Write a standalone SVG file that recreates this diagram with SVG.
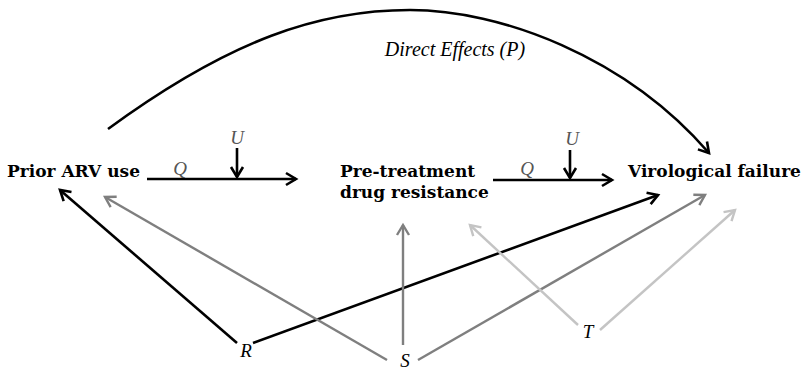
<svg xmlns="http://www.w3.org/2000/svg" width="808" height="370" viewBox="0 0 808 370">
<style>
.k{stroke:#000;stroke-width:2.6;fill:none}
.g{stroke:#7f7f7f;stroke-width:2.4;fill:none}
.l{stroke:#c4c4c4;stroke-width:2.4;fill:none}
</style>
<defs>
<marker id="ak" viewBox="-12 -8 14 16" refX="0" refY="0" markerWidth="14" markerHeight="16" markerUnits="userSpaceOnUse" orient="auto" overflow="visible">
<path d="M-10,-6 L0,0 L-10,6" fill="none" stroke="#000" stroke-width="2.6"/>
</marker>
<marker id="ag" viewBox="-12 -8 14 16" refX="0" refY="0" markerWidth="14" markerHeight="16" markerUnits="userSpaceOnUse" orient="auto" overflow="visible">
<path d="M-10,-6 L0,0 L-10,6" fill="none" stroke="#7f7f7f" stroke-width="2.4"/>
</marker>
<marker id="al" viewBox="-12 -8 14 16" refX="0" refY="0" markerWidth="14" markerHeight="16" markerUnits="userSpaceOnUse" orient="auto" overflow="visible">
<path d="M-10,-6 L0,0 L-10,6" fill="none" stroke="#c4c4c4" stroke-width="2.4"/>
</marker>
</defs>
<g id="connectors">
<path class="k" d="M108,129 C231,39 320,10 410,10 C500,10 625,56 709,153" marker-end="url(#ak)" stroke-width="2.2"/>
<line class="k" x1="147" y1="179" x2="296" y2="179" marker-end="url(#ak)"/>
<line class="k" x1="237" y1="148" x2="237" y2="177" marker-end="url(#ak)"/>
<line class="k" x1="493" y1="180" x2="612" y2="180" marker-end="url(#ak)"/>
<line class="k" x1="570" y1="150" x2="570" y2="178" marker-end="url(#ak)"/>
<line class="k" x1="237" y1="343" x2="60" y2="190" marker-end="url(#ak)"/>
<line class="k" x1="253" y1="343" x2="658" y2="195" marker-end="url(#ak)"/>
<line class="g" x1="387" y1="360" x2="105" y2="197" marker-end="url(#ag)"/>
<line class="g" x1="403" y1="345" x2="403" y2="225" marker-end="url(#ag)"/>
<line class="g" x1="418" y1="360" x2="705" y2="195" marker-end="url(#ag)"/>
<line class="l" x1="578" y1="325" x2="470" y2="225" marker-end="url(#al)"/>
<line class="l" x1="600" y1="330" x2="735" y2="210" marker-end="url(#al)"/>
</g>
<g id="prior"><text font-family="DejaVu Serif" font-weight="bold" font-size="17" x="7" y="177">Prior ARV use</text></g>
<g id="pretreatment"><text font-family="DejaVu Serif" font-weight="bold" font-size="17" x="340" y="177">Pre-treatment</text><text font-family="DejaVu Serif" font-weight="bold" font-size="17" x="340" y="198">drug resistance</text></g>
<g id="virological"><text font-family="DejaVu Serif" font-weight="bold" font-size="17" x="628" y="177">Virological failure</text></g>
<g id="labels">
<text font-family="Liberation Serif" font-style="italic" font-size="20" x="455" y="56" text-anchor="middle">Direct Effects (P)</text>
<text font-family="Liberation Serif" font-style="italic" font-size="19" fill="#555" x="180" y="175" text-anchor="middle">Q</text>
<text font-family="Liberation Serif" font-style="italic" font-size="19" fill="#555" x="237" y="144" text-anchor="middle">U</text>
<text font-family="Liberation Serif" font-style="italic" font-size="19" fill="#555" x="527" y="175" text-anchor="middle">Q</text>
<text font-family="Liberation Serif" font-style="italic" font-size="19" fill="#555" x="572" y="145" text-anchor="middle">U</text>
<text font-family="Liberation Serif" font-style="italic" font-size="19" x="246" y="357" text-anchor="middle">R</text>
<text font-family="Liberation Serif" font-style="italic" font-size="19" x="405" y="367" text-anchor="middle">S</text>
<text font-family="Liberation Serif" font-style="italic" font-size="19" x="588" y="338" text-anchor="middle">T</text>
</g>
</svg>
